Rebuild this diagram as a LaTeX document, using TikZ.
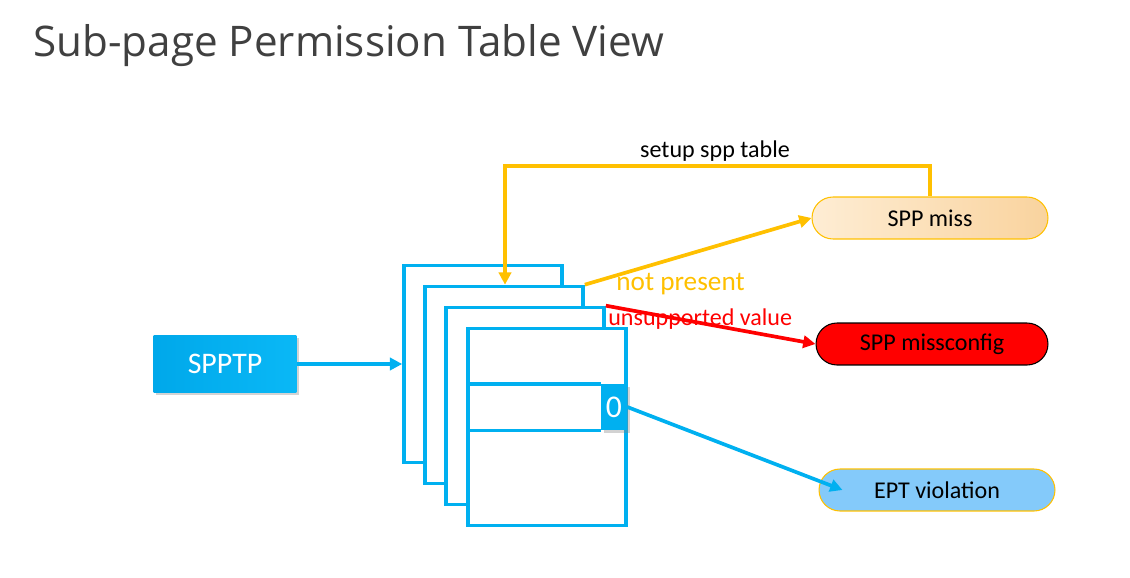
\documentclass[tikz,border=0pt]{standalone}
\usepackage{fontspec}
\setmainfont{Carlito}
\newfontfamily\titlefont{Open Sans}
\usetikzlibrary{arrows.meta,shapes.misc,shadows}

\definecolor{sppblue}{RGB}{0,176,240}
\definecolor{spptpleft}{RGB}{0,168,234}
\definecolor{spptpright}{RGB}{10,184,246}
\definecolor{spporange}{RGB}{255,192,0}
\definecolor{missleft}{RGB}{254,237,212}
\definecolor{missright}{RGB}{249,211,158}
\definecolor{eptfill}{RGB}{132,202,250}
\definecolor{titlegray}{RGB}{64,64,64}

\tikzset{
  page/.style={draw=sppblue, line width=2.1pt, fill=white, inner sep=0pt,
    minimum width=3.16cm, minimum height=3.94cm},
  rowline/.style={draw=sppblue, line width=2.1pt},
  result/.style={rounded rectangle, inner sep=0pt, minimum height=0.84cm,
    line width=0.6pt, font=\fontsize{13.7}{16}\selectfont},
  link/.style={line width=2.1pt, -{Triangle[length=7pt,width=7pt]}},
  lbl/.style={inner sep=0pt, font=\fontsize{13.7}{16}\selectfont},
}

\begin{document}
\begin{tikzpicture}[x=0.02cm,y=-0.02cm]
\useasboundingbox (0,0) rectangle (1130,578);

% title
\node[anchor=base west, inner sep=0pt, text=titlegray, font=\titlefont\fontsize{24}{28}\selectfont]
  (title) at (33,56) {Sub-page Permission Table View};

% stack of table pages, back to front
\node[page] (p1) at (483,364) {};
\node[page] (p2) at (504,385) {};
\node[page] (p3) at (525,406) {};
\node[page] (p4) at (547,427) {};
\node[fill=sppblue, text=white, inner sep=0pt, minimum width=0.52cm, minimum height=0.92cm,
  drop shadow={shadow xshift=1.5pt, shadow yshift=-1.5pt, opacity=0.35},
  font=\fontsize{18}{20}\selectfont] (zero) at (614,407) {0};
\draw[rowline] (p4.west |- zero.north) -- (zero.north west);
\draw[rowline] (p4.west |- zero.south) -- (zero.south west);

% pointer
\node[left color=spptpleft, right color=spptpright, text=white, inner sep=0pt,
  minimum width=2.86cm, minimum height=1.14cm,
  drop shadow={shadow xshift=1.5pt, shadow yshift=-1.5pt, opacity=0.35},
  font=\fontsize{17}{20}\selectfont] (spptp) at (225,364) {SPPTP};

% results
\node[result, minimum width=4.72cm, draw=spporange, left color=missleft, right color=missright]
  (miss) at (930,218) {SPP miss};
\node[result, minimum width=4.64cm, draw=black, fill=red] (misscfg) at (932,344) {SPP missconfig};
\node[result, minimum width=4.72cm, draw=spporange, fill=eptfill] (ept) at (937,490) {EPT violation};

% connectors
\draw[link, sppblue] (spptp.east) -- (p1.west);
\draw[link, spporange] (p2.north east) -- (miss.west);
\draw[link, red] (p3.north east) -- (misscfg.west);
\draw[link, sppblue] (zero.east) -- ([xshift=0.48cm]ept.west);
\coordinate (turn) at (505,166);
\draw[link, spporange] (miss.north) |- (turn) -- (turn |- p2.north);

% labels
\node[lbl] (setup) at (715,151) {setup spp table};
\node[lbl, anchor=west, text=spporange, font=\fontsize{15.5}{18}\selectfont] (notpres) at (616,284) {not present};
\node[lbl, anchor=west, text=red] (unsup) at (608,319) {unsupported value};
\end{tikzpicture}
\end{document}
